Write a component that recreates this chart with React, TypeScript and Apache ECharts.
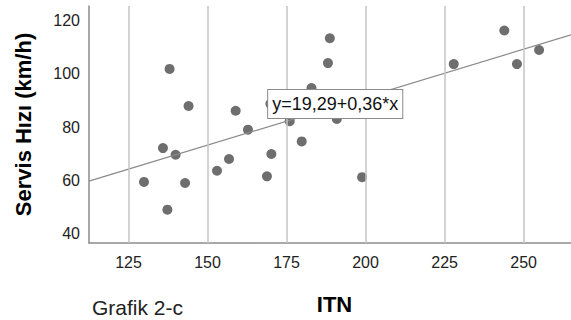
import React, { useEffect, useRef } from "react";
import * as echarts from "echarts";

const itn = [129.9, 135.9, 137.3, 138.0, 139.9, 142.9, 144.0, 153.0, 156.8, 158.9, 162.8, 168.8, 169.9, 170.2, 176.0, 179.8, 182.9, 188.1, 188.7, 190.9, 198.9, 227.9, 243.9, 247.9, 254.9];
const servisHizi = [59.5, 72.2, 49.1, 101.9, 69.7, 59.1, 88.0, 63.7, 68.1, 86.2, 79.1, 61.6, 88.8, 70.0, 82.3, 74.7, 94.7, 104.1, 113.4, 83.1, 61.3, 103.7, 116.3, 103.7, 109.0];
const xTicks = [125, 150, 175, 200, 225, 250];
const yTicks = [40, 60, 80, 100, 120];
const intercept = 19.29;
const slope = 0.36;
const xMin = 112.5;
const xMax = 265;
const yMin = 36.6;
const yMax = 125.5;
const equationLabel = "y=19,29+0,36*x";
const labelAtX = 190.4;

const FONT = "'Liberation Sans', Arial, sans-serif";

export default function App() {
  const ref = useRef<HTMLDivElement>(null);
  useEffect(() => {
    if (!ref.current) return;
    const chart = echarts.init(ref.current, undefined, { renderer: "svg" });
    const pts = itn.map((x, i) => [x, servisHizi[i]]);
    const fit = (x: number) => intercept + slope * x;
    chart.setOption({
      animation: false,
      backgroundColor: "#ffffff",
      textStyle: { fontFamily: FONT },
      grid: { left: 89, right: 0, top: 6, bottom: 320 - 243.3 },
      xAxis: {
        type: "value",
        min: xMin,
        max: xMax,
        name: "ITN",
        nameLocation: "middle",
        nameGap: 50,
        nameTextStyle: { fontSize: 22, fontWeight: "bold", color: "#000", fontFamily: FONT, padding: [0, 0, 0, 9] },
        axisLine: { show: true, lineStyle: { color: "#8c8c8c", width: 1.5 } },
        axisTick: { show: false },
        splitLine: { show: false },
        axisLabel: { customValues: xTicks, fontSize: 16, color: "#222", margin: 11, fontFamily: FONT },
      },
      yAxis: {
        type: "value",
        min: yMin,
        max: yMax,
        name: "Servis Hızı (km/h)",
        nameLocation: "middle",
        nameGap: 55,
        nameTextStyle: { fontSize: 22, fontWeight: "bold", color: "#000", fontFamily: FONT },
        axisLine: { show: true, lineStyle: { color: "#8c8c8c", width: 1.5 } },
        axisTick: { show: false },
        splitLine: { show: false },
        axisLabel: { customValues: yTicks, fontSize: 16, color: "#222", margin: 9, fontFamily: FONT },
      },
      graphic: [
        {
          type: "text",
          left: 92,
          top: 297,
          style: { text: "Grafik 2-c", fontSize: 21, fill: "#222", fontFamily: FONT },
        },
      ],
      series: [
        {
          type: "scatter",
          data: [],
          z: 1,
          silent: true,
          markLine: {
            silent: true,
            symbol: "none",
            label: { show: false },
            lineStyle: { color: "#c4c4c4", width: 1.5, type: "solid" },
            data: xTicks.map((v) => ({ xAxis: v })),
          },
        },
        {
          type: "scatter",
          data: pts,
          z: 3,
          symbolSize: 10,
          itemStyle: { color: "#6e6e6e", opacity: 1 },
        },
        {
          type: "line",
          z: 4,
          data: [
            [xMin, fit(xMin)],
            [xMax, fit(xMax)],
          ],
          showSymbol: false,
          symbol: "none",
          lineStyle: { color: "#8a8a8a", width: 1.2 },
          markPoint: {
            z: 6,
            symbol: "rect",
            symbolSize: 0,
            silent: true,
            data: [{ coord: [labelAtX, fit(labelAtX)] }],
            label: {
              show: true,
              position: "inside",
              offset: [0, -2.5],
              formatter: equationLabel,
              fontSize: 18,
              lineHeight: 20,
              color: "#111",
              fontFamily: FONT,
              backgroundColor: "#ffffff",
              borderColor: "#8a8a8a",
              borderWidth: 1,
              padding: [4, 4, 4, 4],
            },
          },
        },
      ],
    });
    return () => chart.dispose();
  }, []);
  return <div ref={ref} style={{ width: 571, height: 320, position: "absolute", left: 0, top: 0 }} />;
}
